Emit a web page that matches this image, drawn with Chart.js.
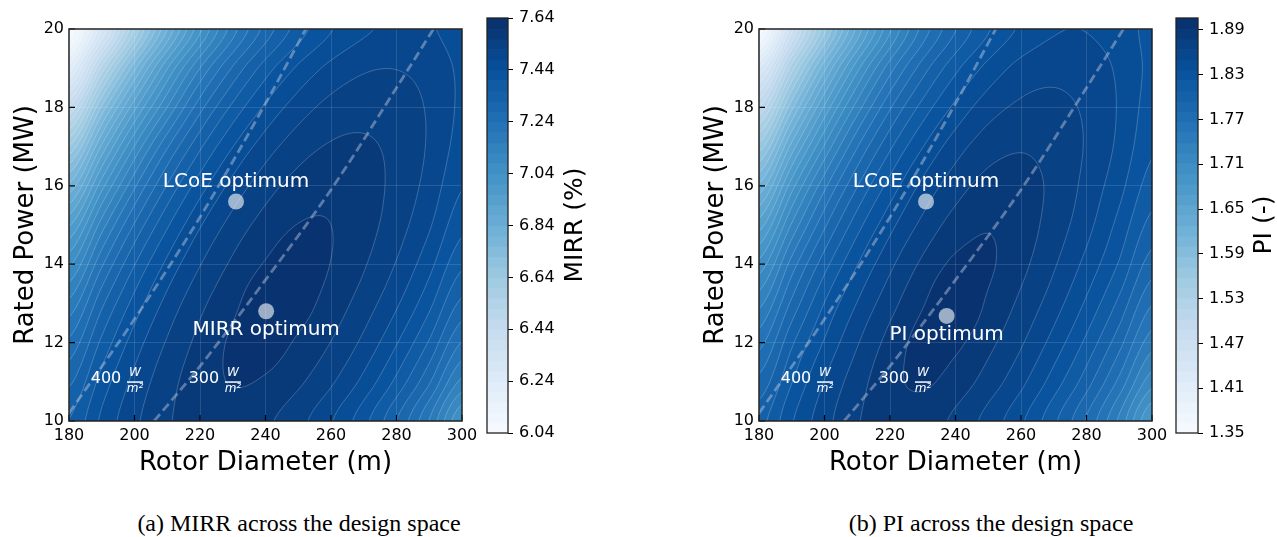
<!DOCTYPE html>
<html>
<head>
<meta charset="utf-8">
<script src="https://cdn.jsdelivr.net/npm/chart.js@4.4.1/dist/chart.umd.min.js"></script>
<style>
  body{margin:0;width:1277px;height:537px;position:relative;overflow:hidden;background:#fff}
  canvas{position:absolute;top:0}
  .cap{position:absolute;top:508px;width:500px;text-align:center;font:24px 'Liberation Serif';line-height:30px;color:#000}
</style>
</head>
<body>
<canvas id="mirr" width="484" height="480" style="left:0"></canvas>
<canvas id="mirrBar" width="130" height="450" style="left:470px"></canvas>
<canvas id="pi" width="484" height="480" style="left:690px"></canvas>
<canvas id="piBar" width="118" height="450" style="left:1159px"></canvas>
<div class="cap" style="left:49px">(a) MIRR across the design space</div>
<div class="cap" style="left:741px">(b) PI across the design space</div>
<script>
// 设计空间: 转子直径 × 额定功率
const FONT = "'DejaVu Sans'";
const DIAMETERS = [180,190,200,210,220,230,240,250,260,270,280,290,300]; // m
const POWERS = [10,11,12,13,14,15,16,17,18,19,20]; // MW

// MIRR (%) , 行 = POWERS, 列 = DIAMETERS
const MIRR = [
  [7.361,7.448,7.511,7.555,7.580,7.584,7.567,7.533,7.483,7.414,7.320,7.198,7.041],
  [7.312,7.416,7.491,7.545,7.582,7.602,7.595,7.567,7.526,7.468,7.389,7.285,7.149],
  [7.249,7.369,7.459,7.524,7.571,7.606,7.618,7.594,7.559,7.510,7.443,7.355,7.238],
  [7.170,7.310,7.415,7.493,7.550,7.591,7.625,7.616,7.583,7.541,7.486,7.411,7.310],
  [7.072,7.233,7.358,7.450,7.518,7.567,7.603,7.620,7.599,7.564,7.517,7.453,7.368],
  [6.955,7.139,7.284,7.394,7.476,7.535,7.576,7.601,7.600,7.576,7.538,7.485,7.412],
  [6.809,7.023,7.192,7.323,7.421,7.493,7.543,7.575,7.588,7.577,7.548,7.505,7.443],
  [6.642,6.887,7.082,7.235,7.352,7.439,7.501,7.542,7.564,7.566,7.549,7.515,7.464],
  [6.441,6.727,6.947,7.121,7.265,7.370,7.447,7.500,7.533,7.545,7.539,7.515,7.473],
  [6.219,6.532,6.789,6.997,7.160,7.285,7.380,7.447,7.491,7.515,7.519,7.505,7.473],
  [6.045,6.311,6.603,6.840,7.031,7.181,7.295,7.379,7.437,7.473,7.488,7.484,7.462]
];
// PI (-)
const PI = [
  [1.803,1.835,1.859,1.877,1.886,1.885,1.875,1.859,1.839,1.812,1.779,1.736,1.683],
  [1.785,1.822,1.851,1.872,1.888,1.894,1.886,1.872,1.854,1.830,1.801,1.763,1.717],
  [1.762,1.806,1.838,1.863,1.883,1.897,1.895,1.882,1.866,1.845,1.819,1.786,1.745],
  [1.735,1.784,1.823,1.851,1.873,1.891,1.903,1.890,1.875,1.857,1.834,1.805,1.768],
  [1.702,1.759,1.803,1.836,1.861,1.881,1.895,1.894,1.882,1.866,1.846,1.821,1.788],
  [1.663,1.727,1.778,1.817,1.846,1.868,1.884,1.891,1.885,1.872,1.855,1.832,1.804],
  [1.617,1.691,1.749,1.794,1.828,1.854,1.872,1.883,1.883,1.875,1.860,1.841,1.816],
  [1.564,1.647,1.713,1.766,1.806,1.836,1.858,1.872,1.877,1.873,1.863,1.847,1.825],
  [1.503,1.596,1.672,1.732,1.779,1.814,1.840,1.858,1.867,1.868,1.862,1.849,1.830],
  [1.433,1.538,1.624,1.693,1.747,1.788,1.819,1.841,1.855,1.860,1.857,1.848,1.833],
  [1.353,1.471,1.568,1.646,1.709,1.758,1.794,1.821,1.839,1.849,1.850,1.844,1.832]
];

const MIRR_RANGE = [6.04, 7.64];
const PI_RANGE = [1.35, 1.906];
const LEVELS = 40;
const MIRR_TICKS = [6.04,6.24,6.44,6.64,6.84,7.04,7.24,7.44,7.64];
const PI_TICKS = [1.35,1.41,1.47,1.53,1.59,1.65,1.71,1.77,1.83,1.89];
const X_TICKS = [180,200,220,240,260,280,300];
const Y_TICKS = [10,12,14,16,18,20];

// 功率密度线 [D, P]
const LINE_400 = [[180,10.2],[200,12.6],[220,15.2],[240,18.1],[252.3,20]];
const LINE_300 = [[206,10],[220,11.4],[240,13.6],[260,15.9],[280,18.5],[291.3,20]];
const DENSITY_LABELS = [['400',191.3,11.07],['300',221.2,11.07]];
const LCOE_OPT = [231,15.6];
const MIRR_OPT = [240.2,12.8];
const PI_OPT = [237.3,12.68];

const BLUES = [[247,251,255],[222,235,247],[198,219,239],[158,202,225],[107,174,214],[66,146,198],[33,113,181],[8,81,156],[8,48,107]];
function blues(t) {
  const s = Math.max(0, Math.min(1, t)) * (BLUES.length - 1);
  const i = Math.min(Math.floor(s), BLUES.length - 2), f = s - i;
  return BLUES[i].map((c, k) => Math.round(c + (BLUES[i + 1][k] - c) * f));
}

// Catmull-Rom 取值
function cr(a, b, c, d, t) { return b + 0.5 * t * (c - a + t * (2*a - 5*b + 4*c - d + t * (3*(b - c) + d - a))); }
function sampleGrid(g, D, P) {
  const fx = (D - DIAMETERS[0]) / (DIAMETERS[1] - DIAMETERS[0]);
  const fy = (P - POWERS[0]) / (POWERS[1] - POWERS[0]);
  const ny = g.length, nx = g[0].length;
  const ix = Math.min(Math.max(Math.floor(fx), 0), nx - 2), iy = Math.min(Math.max(Math.floor(fy), 0), ny - 2);
  const tx = fx - ix, ty = fy - iy;
  const cx = i => Math.min(Math.max(i, 0), nx - 1), cy = j => Math.min(Math.max(j, 0), ny - 1);
  const col = [];
  for (let j = -1; j <= 2; j++) {
    const r = g[cy(iy + j)];
    col.push(cr(r[cx(ix-1)], r[cx(ix)], r[cx(ix+1)], r[cx(ix+2)], tx));
  }
  return cr(col[0], col[1], col[2], col[3], ty);
}

// 填充等值面 + 等值线
const fieldPlugin = (grid, range) => ({
  id: 'field',
  beforeDatasetsDraw(chart) {
    const {ctx, chartArea: a, scales: {x, y}} = chart;
    const w = Math.round(a.right - a.left), h = Math.round(a.bottom - a.top);
    const [lo, hi] = range, step = (hi - lo) / LEVELS;
    const value = (px, py) => sampleGrid(grid, x.getValueForPixel(px), y.getValueForPixel(py));
    const palette = [];
    for (let k = 0; k < LEVELS; k++) palette.push(blues((k + 0.5) / LEVELS));
    const off = document.createElement('canvas'); off.width = w; off.height = h;
    const octx = off.getContext('2d'), img = octx.createImageData(w, h);
    for (let j = 0; j < h; j++) for (let i = 0; i < w; i++) {
      const v = value(a.left + i + 0.5, a.top + j + 0.5);
      const c = palette[Math.max(0, Math.min(LEVELS - 1, Math.floor((v - lo) / step)))], o = (j * w + i) * 4;
      img.data[o] = c[0]; img.data[o+1] = c[1]; img.data[o+2] = c[2]; img.data[o+3] = 255;
    }
    octx.putImageData(img, 0, 0);
    ctx.drawImage(off, a.left, a.top);

    const s = 2, nx = Math.ceil(w / s) + 1, ny = Math.ceil(h / s) + 1;
    const F = new Float64Array(nx * ny);
    for (let j = 0; j < ny; j++) for (let i = 0; i < nx; i++) F[j*nx + i] = value(a.left + i*s, a.top + j*s);
    ctx.save();
    ctx.beginPath(); ctx.rect(a.left, a.top, w, h); ctx.clip();
    ctx.strokeStyle = 'rgba(255,255,255,0.35)'; ctx.lineWidth = 0.6;
    ctx.beginPath();
    for (let k = 1; k < LEVELS; k++) {
      const L = lo + k * step;
      for (let j = 0; j < ny - 1; j++) for (let i = 0; i < nx - 1; i++) {
        const v0 = F[j*nx+i], v1 = F[j*nx+i+1], v2 = F[(j+1)*nx+i+1], v3 = F[(j+1)*nx+i];
        const X0 = a.left + i*s, Y0 = a.top + j*s, pts = [];
        if ((v0 < L) !== (v1 < L)) pts.push([X0 + s*(L-v0)/(v1-v0), Y0]);
        if ((v1 < L) !== (v2 < L)) pts.push([X0 + s, Y0 + s*(L-v1)/(v2-v1)]);
        if ((v3 < L) !== (v2 < L)) pts.push([X0 + s*(L-v3)/(v2-v3), Y0 + s]);
        if ((v0 < L) !== (v3 < L)) pts.push([X0, Y0 + s*(L-v0)/(v3-v0)]);
        for (let p = 0; p + 1 < pts.length; p += 2) { ctx.moveTo(pts[p][0], pts[p][1]); ctx.lineTo(pts[p+1][0], pts[p+1][1]); }
      }
    }
    ctx.stroke();
    ctx.restore();
  }
});

// 文字标注
const notesPlugin = (opt, optName) => ({
  id: 'notes',
  afterDatasetsDraw(chart) {
    const {ctx, scales: {x, y}} = chart;
    ctx.save();
    ctx.fillStyle = '#fff'; ctx.strokeStyle = '#fff';
    ctx.textAlign = 'center'; ctx.textBaseline = 'middle';
    ctx.font = `20px ${FONT}`;
    ctx.fillText('LCoE optimum', x.getPixelForValue(LCOE_OPT[0]), y.getPixelForValue(LCOE_OPT[1]) - 20);
    ctx.fillText(optName, x.getPixelForValue(opt[0]), y.getPixelForValue(opt[1]) + 19);
    DENSITY_LABELS.forEach(([txt, d, p]) => {
      const px = x.getPixelForValue(d), py = y.getPixelForValue(p), fx = px + 29;
      ctx.font = `16px ${FONT}`;
      ctx.fillText(txt, px, py);
      ctx.font = `italic 12px ${FONT}`;
      ctx.fillText('W', fx, py - 6);
      ctx.fillText('m²', fx, py + 10);
      ctx.lineWidth = 1.5;
      ctx.beginPath(); ctx.moveTo(fx - 8, py + 3); ctx.lineTo(fx + 8, py + 3); ctx.stroke();
    });
    ctx.restore();
  }
});

// 边框 + 向内刻度
const framePlugin = {
  id: 'frame',
  afterDraw(chart) {
    const {ctx, chartArea: a, scales: {x, y}} = chart;
    ctx.save();
    ctx.strokeStyle = '#000'; ctx.lineWidth = 1.2;
    ctx.beginPath();
    X_TICKS.forEach(v => { const px = x.getPixelForValue(v); ctx.moveTo(px, a.bottom); ctx.lineTo(px, a.bottom - 6); });
    Y_TICKS.forEach(v => { const py = y.getPixelForValue(v); ctx.moveTo(a.left, py); ctx.lineTo(a.left + 6, py); });
    ctx.stroke();
    ctx.strokeStyle = '#222'; ctx.lineWidth = 1.5;
    ctx.strokeRect(a.left, a.top, a.right - a.left, a.bottom - a.top);
    ctx.restore();
  }
};

const densityLine = pts => ({
  data: pts.map(([x, y]) => ({x, y})), showLine: true, pointRadius: 0,
  borderColor: 'rgba(195,205,225,0.45)', borderWidth: 2.8, borderDash: [9, 4.5],
  cubicInterpolationMode: 'monotone'
});

function designChart(id, grid, range, opt, optName) {
  const tickFont = {family: FONT, size: 16};
  return new Chart(document.getElementById(id), {
    type: 'scatter',
    data: {datasets: [
      densityLine(LINE_400),
      densityLine(LINE_300),
      {data: [LCOE_OPT, opt].map(([x, y]) => ({x, y})), pointRadius: 8, pointHoverRadius: 8,
       backgroundColor: 'rgba(255,255,255,0.6)', borderWidth: 0}
    ]},
    options: {
      responsive: false, animation: false, events: [],
      layout: {padding: {top: 29, right: 22, left: 0, bottom: 0}},
      scales: {
        x: {type: 'linear', min: 180, max: 300,
            afterBuildTicks: s => { s.ticks = X_TICKS.map(v => ({value: v})); },
            afterFit: s => { s.height = 59; },
            ticks: {font: tickFont, color: '#000', padding: 5, maxRotation: 0, autoSkip: false},
            grid: {color: 'rgba(255,255,255,0.12)', drawTicks: false, z: 1},
            border: {display: false},
            title: {display: true, text: 'Rotor Diameter (m)', color: '#000', font: {family: FONT, size: 26}, padding: {top: 0, bottom: 1}}},
        y: {type: 'linear', min: 10, max: 20,
            afterBuildTicks: s => { s.ticks = Y_TICKS.map(v => ({value: v})); },
            afterFit: s => { s.width = 69; },
            ticks: {font: tickFont, color: '#000', padding: 5, autoSkip: false},
            grid: {color: 'rgba(255,255,255,0.12)', drawTicks: false, z: 1},
            border: {display: false},
            title: {display: true, text: 'Rated Power (MW)', color: '#000', font: {family: FONT, size: 26}, padding: {top: 11, bottom: 0}}}
      },
      plugins: {legend: {display: false}, tooltip: {enabled: false}}
    },
    plugins: [fieldPlugin(grid, range), notesPlugin(opt, optName), framePlugin]
  });
}

// 色标
const barPlugin = (range, label) => ({
  id: 'bar',
  beforeDatasetsDraw(chart) {
    const {ctx, chartArea: a, scales: {y}} = chart;
    const step = (range[1] - range[0]) / LEVELS;
    for (let k = 0; k < LEVELS; k++) {
      const y0 = y.getPixelForValue(range[0] + k * step), y1 = y.getPixelForValue(range[0] + (k + 1) * step);
      ctx.fillStyle = `rgb(${blues((k + 0.5) / LEVELS).join(',')})`;
      ctx.fillRect(a.left, y1, a.right - a.left, y0 - y1 + 0.6);
    }
    ctx.save();
    ctx.strokeStyle = '#222'; ctx.lineWidth = 1.3;
    ctx.strokeRect(a.left, a.top, a.right - a.left, a.bottom - a.top);
    ctx.translate(105, 225); ctx.rotate(-Math.PI / 2);
    ctx.fillStyle = '#000'; ctx.font = `25px ${FONT}`;
    ctx.textAlign = 'center'; ctx.textBaseline = 'middle';
    ctx.fillText(label, 0, 0);
    ctx.restore();
  }
});

function colorBar(id, range, ticks, label, axisWidth) {
  return new Chart(document.getElementById(id), {
    type: 'scatter',
    data: {datasets: []},
    options: {
      responsive: false, animation: false, events: [],
      layout: {padding: {top: 18, bottom: 17, left: 17, right: 0}},
      scales: {
        x: {display: false, min: 0, max: 1},
        y: {position: 'right', min: range[0], max: range[1],
            afterBuildTicks: s => { s.ticks = ticks.map(v => ({value: v})); },
            afterFit: s => { s.width = axisWidth; },
            ticks: {callback: v => v.toFixed(2), font: {family: FONT, size: 16}, color: '#000', padding: 6, autoSkip: false},
            grid: {drawOnChartArea: false, tickLength: 5, tickColor: '#000', tickWidth: 1},
            border: {display: false}}
      },
      plugins: {legend: {display: false}, tooltip: {enabled: false}}
    },
    plugins: [barPlugin(range, label)]
  });
}

designChart('mirr', MIRR, MIRR_RANGE, MIRR_OPT, 'MIRR optimum');
colorBar('mirrBar', MIRR_RANGE, MIRR_TICKS, 'MIRR (%)', 92);
designChart('pi', PI, PI_RANGE, PI_OPT, 'PI optimum');
colorBar('piBar', PI_RANGE, PI_TICKS, 'PI (-)', 79);
</script>
</body>
</html>
